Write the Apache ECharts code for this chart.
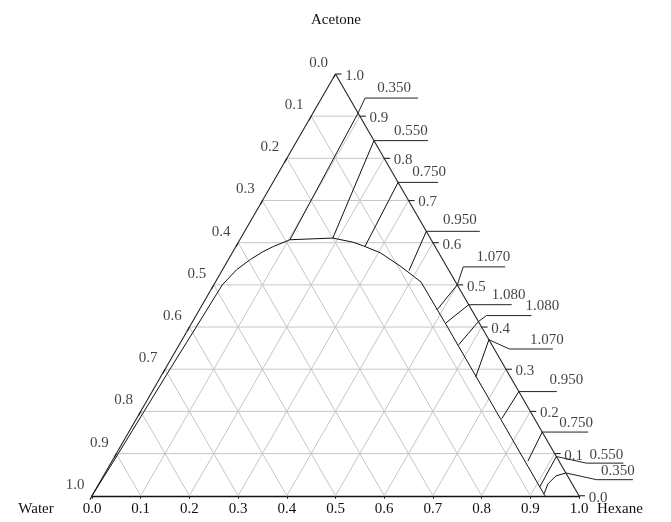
<!DOCTYPE html>
<html><head><meta charset="utf-8">
<script src="https://cdn.jsdelivr.net/npm/echarts@6/dist/echarts.min.js"></script>
<style>html,body{margin:0;padding:0;background:#fff}#c{width:671px;height:522px}</style>
</head><body><div id="c"></div>
<script>
// ---------- data ----------
const TICKS = [0.0, 0.1, 0.2, 0.3, 0.4, 0.5, 0.6, 0.7, 0.8, 0.9, 1.0];
const TICK_LABELS = ['0.0','0.1','0.2','0.3','0.4','0.5','0.6','0.7','0.8','0.9','1.0'];
const COMPONENT_TOP = 'Acetone';
const COMPONENT_LEFT = 'Water';
const COMPONENT_RIGHT = 'Hexane';

// binodal curve: hexane and acetone mass fractions
const binodalHexane  = [0.000, 0.004, 0.007, 0.010, 0.014, 0.0175, 0.029, 0.045, 0.062, 0.077, 0.103, 0.189, 0.236, 0.265, 0.304, 0.360, 0.422, 0.530, 0.730, 0.930];
const binodalAcetone = [0.000, 0.100, 0.200, 0.300, 0.400, 0.500, 0.536, 0.560, 0.579, 0.591, 0.607, 0.611, 0.601, 0.591, 0.576, 0.545, 0.507, 0.400, 0.200, 0.000];

// contour lines (from binodal to the hexane-acetone side)
const contourLabels = ['0.350','0.550','0.750','0.950','1.070','1.080','1.080','1.070','0.950','0.750','0.550','0.350'];
const contourHexane = [
  [0.103, 0.0926],
  [0.189, 0.158],
  [0.265, 0.257],
  [0.384, 0.373],
  [0.488, 0.500],
  [0.522, 0.547],
  [0.574, 0.580, 0.587],
  [0.647, 0.630],
  [0.750, 0.753],
  [0.854, 0.849],
  [0.909, 0.907],
  [0.926, 0.922, 0.929, 0.946]
];
const contourAcetone = [
  [0.607, 0.9074],
  [0.611, 0.842],
  [0.591, 0.743],
  [0.534, 0.627],
  [0.441, 0.500],
  [0.410, 0.453],
  [0.358, 0.384, 0.413],
  [0.282, 0.370],
  [0.183, 0.247],
  [0.082, 0.151],
  [0.021, 0.093],
  [0.005, 0.028, 0.047, 0.054]
];

// ---------- layout (pixel offsets of label leaders from the contour end) ----------
const LEADERS = [
  {knee:[7,-15],    end:[60,-15],   text:[36,-25]},
  {knee:[0,0],      end:[54,0],     text:[37,-10]},
  {knee:[0,0],      end:[40,0],     text:[31,-10]},
  {knee:[0,0],      end:[53.5,0],   text:[33.5,-11]},
  {knee:[6,-18],    end:[48,-18],   text:[36,-28]},
  {knee:[0,0],      end:[43,0],     text:[40,-10]},
  {knee:[8,-6],     end:[53,-6],    text:[64,-16]},
  {knee:[20.5,9.3], end:[64,9.3],   text:[58,0]},
  {knee:[0,0],      end:[38,0],     text:[47.5,-11.5]},
  {knee:[0,0],      end:[46,0],     text:[34,-9.5]},
  {knee:[30,6.6],   end:[67,6.6],   text:[50,-1.5]},
  {knee:[30.7,6.7], end:[67,6.7],   text:[52,-1.5]}
];
const GRID_LEFT = 92, GRID_TOP = 74, GRID_W = 487;
const SQ = Math.sqrt(3) / 2;
const FONT = '"Liberation Serif", "Times New Roman", serif';
const FS = 15;
const TXT = '#111';

function tern(h, a) { return [h + a / 2, a * SQ]; }
function off(p, d) { return [p[0] + d[0] / GRID_W, p[1] - d[1] / GRID_W]; }

// gray grid lines
const gridLines = [];
for (let i = 1; i < TICKS.length - 1; i++) {
  const t = TICKS[i];
  gridLines.push({coords: [tern(0, t), tern(1 - t, t)]});          // constant acetone
  gridLines.push({coords: [tern(t, 0), tern(t, 1 - t)]});          // constant hexane
  gridLines.push({coords: [tern(1 - t, 0), tern(0, 1 - t)]});      // constant water
}
const edges = [
  {coords: [tern(0, 0), tern(0, 1)]},
  {coords: [tern(1, 0), tern(0, 1)]}
];
// side-axis ticks
const tickLines = [];
const leftLabels = [], rightLabels = [];
TICKS.forEach((t, i) => {
  const pl = tern(0, 1 - t);        // water fraction t on the left side
  tickLines.push({coords: [pl, off(pl, [-2, 4])]});
  leftLabels.push({value: off(pl, [-17, -11]), name: TICK_LABELS[i]});
  const pr = tern(1 - t, t);        // acetone fraction t on the right side
  tickLines.push({coords: [pr, off(pr, [6, 0])]});
  rightLabels.push({value: off(pr, [19, 2]), name: TICK_LABELS[i]});
});

const series = [];
series.push({type:'lines', coordinateSystem:'cartesian2d', polyline:true, silent:true, z:1, clip:false,
  lineStyle:{color:'#c6c6c6', width:1, opacity:1}, data: gridLines});
series.push({type:'lines', coordinateSystem:'cartesian2d', polyline:true, silent:true, z:3, clip:false,
  lineStyle:{color:'#222', width:1.1, opacity:1}, data: edges.concat(tickLines)});

series.push({type:'line', name:'binodal', symbol:'none', smooth:false, z:4, clip:false,
  lineStyle:{color:'#111', width:1},
  data: binodalHexane.map((h, i) => tern(h, binodalAcetone[i]))});

const leaderLines = [], contourTexts = [];
contourLabels.forEach((lab, k) => {
  const pts = contourHexane[k].map((h, j) => tern(h, contourAcetone[k][j]));
  series.push({type:'line', name:'c' + k, symbol:'none', z:4, clip:false,
    lineStyle:{color:'#111', width:1}, data: pts});
  const R = pts[pts.length - 1];
  const L = LEADERS[k];
  leaderLines.push({coords: [R, off(R, L.knee), off(R, L.end)]});
  contourTexts.push({value: off(R, L.text), name: lab});
});
series.push({type:'lines', coordinateSystem:'cartesian2d', polyline:true, silent:true, z:4, clip:false,
  lineStyle:{color:'#222', width:1, opacity:1}, data: leaderLines});

function labelSeries(data) {
  return {type:'scatter', symbolSize:1, silent:true, z:5, clip:false,
    itemStyle:{color:'rgba(0,0,0,0)'},
    label:{show:true, position:'inside', formatter:'{b}', color:TXT, fontFamily:FONT, fontSize:FS},
    data: data};
}
series.push(labelSeries(contourTexts));
series.push(labelSeries(leftLabels));
series.push(labelSeries(rightLabels));

const chart = echarts.init(document.getElementById('c'), null, {renderer:'canvas'});
chart.setOption({
  animation:false,
  backgroundColor:'#fff',
  grid:{left:GRID_LEFT, top:GRID_TOP, width:GRID_W, height:GRID_W * SQ},
  xAxis:{type:'value', min:0, max:1, interval:0.1,
    axisLine:{show:true, lineStyle:{color:'#111', width:1.3}},
    axisTick:{show:true, length:3, lineStyle:{color:'#222'}},
    axisLabel:{show:true, margin:6, formatter: v => TICK_LABELS[Math.round(v * 10)],
      color:TXT, fontFamily:FONT, fontSize:FS},
    splitLine:{show:false}},
  yAxis:{type:'value', min:0, max:SQ, show:false, splitLine:{show:false}},
  graphic:[
    {type:'text', x:336, y:20, style:{text:COMPONENT_TOP, font:FS + 'px ' + FONT, fill:TXT, align:'center', verticalAlign:'middle'}},
    {type:'text', x:36, y:509, style:{text:COMPONENT_LEFT, font:FS + 'px ' + FONT, fill:TXT, align:'center', verticalAlign:'middle'}},
    {type:'text', x:620, y:509, style:{text:COMPONENT_RIGHT, font:FS + 'px ' + FONT, fill:TXT, align:'center', verticalAlign:'middle'}}
  ],
  series: series
});
</script></body></html>
